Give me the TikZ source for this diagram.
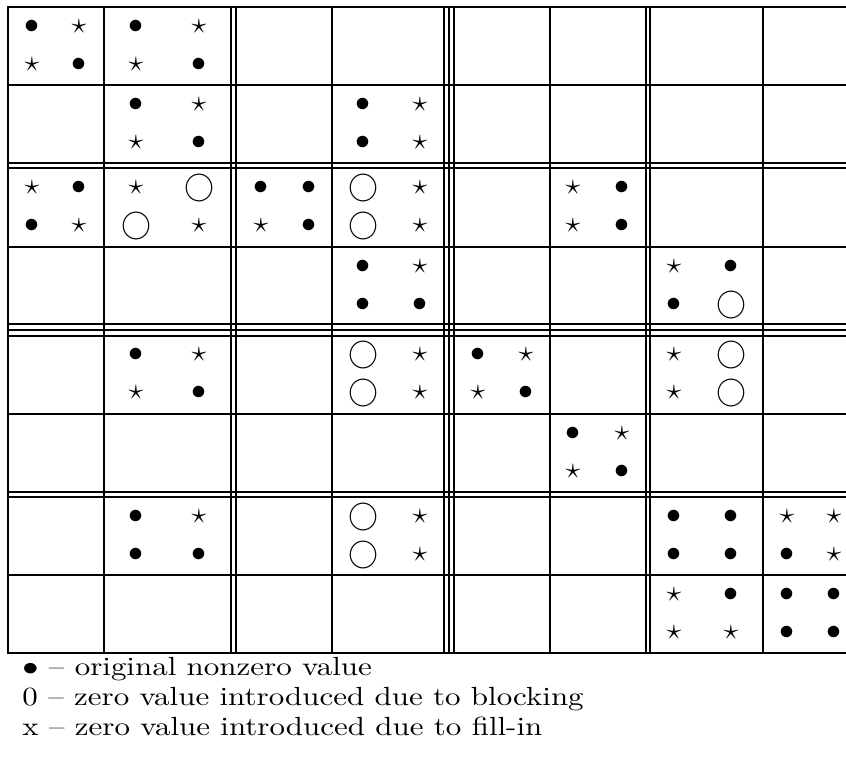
\documentclass[tikz,border=0pt]{standalone}
\usepackage{graphicx}

\newcommand\mkD{$\bullet$}
\newcommand\mkS{$\star$}
\newcommand\mkO{$\bigcirc$}
\newcommand\keytext[1]{\scalebox{1.18}[1]{#1}}

\begin{document}
\begin{tikzpicture}[x=0.4pt,y=-0.4pt,
  rule/.style={line width=0.7pt,line cap=rect},
  mark node/.style={inner sep=0pt,font=\fontsize{12.5}{14}\selectfont},
  legend/.style={anchor=base west,inner sep=0pt,font=\fontsize{10.5}{12}\selectfont}]
  \useasboundingbox (0,0) rectangle (846,769);
  % horizontal rules (double and triple between blocks)
  \foreach \y in {7,85,163,168,247,324,330,336,414,492,497,575,653}
    \draw[rule] (8,\y) -- (846,\y);
  % vertical rules
  \foreach \x in {8,104,231,236,332,444,449,454,550,646,650,763}
    \draw[rule] (\x,7) -- (\x,653);
  % marker centres: left and right x of each column, upper y of each row
  \def\xa{{32,136,261,363,478,573,674,787}}
  \def\xb{{79,199,309,420,526,622,731,834}}
  \def\ya{{27,105,188,267,355,434,517,595}}
  % column/row/top left/top right/bottom left/bottom right
  \foreach \c/\r/\p/\q/\s/\t in {
    1/1/D/S/S/D, 2/1/D/S/S/D,
    2/2/D/S/S/D, 4/2/D/S/D/S,
    1/3/S/D/D/S, 2/3/S/O/O/S, 3/3/D/D/S/D, 4/3/O/S/O/S, 6/3/S/D/S/D,
    4/4/D/S/D/D, 7/4/S/D/D/O,
    2/5/D/S/S/D, 4/5/O/S/O/S, 5/5/D/S/S/D, 7/5/S/O/S/O,
    6/6/D/S/S/D,
    2/7/D/S/D/D, 4/7/O/S/O/S, 7/7/D/D/D/D, 8/7/S/S/D/S,
    7/8/S/D/S/S, 8/8/D/D/D/D%
  }
  {
    \pgfmathsetmacro\L{\xa[\c-1]}
    \pgfmathsetmacro\R{\xb[\c-1]}
    \pgfmathsetmacro\T{\ya[\r-1]}
    \pgfmathsetmacro\B{\T+38}
    \node[mark node] (e-\c-\r-a) at (\L,\T) {\csname mk\p\endcsname};
    \node[mark node] (e-\c-\r-b) at (\R,\T) {\csname mk\q\endcsname};
    \node[mark node] (e-\c-\r-c) at (\L,\B) {\csname mk\s\endcsname};
    \node[mark node] (e-\c-\r-d) at (\R,\B) {\csname mk\t\endcsname};
  }
  % key
  \node[legend] (key1) at (22,675) {\keytext{$\bullet$ -- original nonzero value}};
  \node[legend] (key2) at (22,705) {\keytext{0 -- zero value introduced due to blocking}};
  \node[legend] (key3) at (22,735) {\keytext{x -- zero value introduced due to fill-in}};
\end{tikzpicture}
\end{document}
